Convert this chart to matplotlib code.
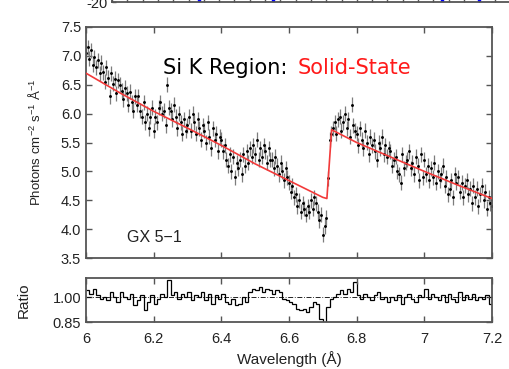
import numpy as np
import matplotlib
matplotlib.use('Agg')
import matplotlib.pyplot as plt

plt.rcParams['font.family'] = ['Liberation Sans', 'DejaVu Sans']
plt.rcParams['mathtext.default'] = 'regular'

# spectrum, 0.005 A bins starting at 6.0 A
wave0 = 6.0
bin_w = 0.005
flux = [
    7.05, 7.15, 6.95, 7.10, 6.85, 6.98, 6.80, 6.92, 6.70, 6.88,
    6.72, 6.55, 6.80, 6.62, 6.30, 6.70, 6.52, 6.60, 6.35, 6.58,
    6.50, 6.40, 6.25, 6.45, 6.35, 6.15, 6.38, 6.20, 6.05, 6.30,
    6.15, 6.30, 6.05, 5.95, 6.20, 5.85, 6.00, 5.75, 5.95, 6.10,
    5.70, 5.95, 5.85, 6.10, 6.20, 6.00, 6.05, 5.80, 6.50, 6.10,
    6.05, 5.90, 6.15, 5.95, 5.75, 6.00, 5.85, 5.65, 5.90, 5.70,
    5.80, 5.95, 5.70, 6.00, 5.85, 5.65, 5.90, 5.75, 5.55, 5.80,
    5.70, 5.50, 5.85, 5.60, 5.40, 5.75, 5.55, 5.65, 5.35, 5.60,
    5.55, 5.35, 5.45, 5.20, 5.10, 5.30, 5.00, 5.25, 4.90, 5.15,
    5.05, 5.20, 4.95, 5.30, 5.10, 5.35, 5.15, 5.40, 5.25, 5.45,
    5.30, 5.55, 5.20, 5.40, 5.25, 5.45, 5.35, 5.15, 5.40, 5.20,
    5.20, 5.05, 5.25, 5.10, 4.95, 5.15, 5.00, 4.85, 5.05, 4.90,
    4.80, 4.65, 4.75, 4.55, 4.60, 4.40, 4.50, 4.30, 4.45, 4.35,
    4.25, 4.40, 4.30, 4.50, 4.35, 4.55, 4.45, 4.30, 4.15, 4.25,
    3.90, 4.05, 4.20, 4.88, 5.55, 5.65, 5.75, 5.85, 5.65, 5.90,
    5.95, 5.70, 5.85, 6.00, 5.75, 5.90, 5.60, 6.15, 5.80, 5.70,
    5.65, 5.45, 5.75, 5.55, 5.40, 5.70, 5.50, 5.30, 5.60, 5.45,
    5.55, 5.35, 5.20, 5.50, 5.40, 5.60, 5.30, 5.45, 5.25, 5.40,
    5.35, 5.10, 5.20, 5.25, 5.00, 4.95, 4.80, 5.30, 5.05, 5.15,
    5.20, 5.35, 5.05, 5.15, 4.95, 5.25, 5.10, 4.85, 5.30, 4.90,
    5.20, 4.95, 5.10, 4.85, 5.05, 4.90, 5.15, 4.80, 5.00, 4.85,
    4.95, 5.10, 4.75, 4.90, 4.60, 4.70, 4.85, 4.55, 4.95, 4.80,
    4.90, 4.65, 4.80, 4.55, 4.75, 4.85, 4.60, 4.70, 4.45, 4.75,
    4.55, 4.70, 4.40, 4.60, 4.75, 4.50, 4.65, 4.35, 4.55, 4.45, 4.40,
]
flux_err = 0.13

# solid-state model
model_wave = [6.0, 6.1, 6.2, 6.3, 6.4, 6.5, 6.6, 6.7, 6.712, 6.726,
              6.8, 6.9, 7.0, 7.1, 7.2]
model_flux = [6.70, 6.36, 6.04, 5.75, 5.45, 5.13, 4.84, 4.55, 4.53, 5.72,
              5.50, 5.25, 5.00, 4.76, 4.53]

# data/model ratio, 0.01 A bins
ratio_bin = 0.01
ratio = [
    1.04, 1.02, 1.05, 1.01, 0.99, 1.00, 0.98, 1.03, 1.00, 0.97,
    1.03, 1.00, 0.99, 1.02, 0.95, 0.98, 1.01, 0.92, 0.97, 1.01,
    0.96, 0.99, 1.02, 1.00, 1.10, 1.01, 1.03, 0.99, 1.02, 1.00,
    1.03, 0.98, 1.01, 1.00, 1.03, 0.98, 1.02, 0.96, 1.01, 0.99,
    1.02, 0.97, 0.96, 0.99, 0.95, 0.96, 1.00, 0.97, 1.03, 1.05,
    1.04, 1.06, 1.03, 1.05, 1.04, 1.02, 1.04, 1.03, 0.99, 0.98,
    0.97, 0.96, 0.93, 0.92, 0.93, 0.91, 0.94, 0.97, 0.96, 0.87,
    0.84, 0.94, 0.99, 1.00, 1.02, 1.04, 1.02, 1.05, 1.03, 1.09,
    1.01, 0.99, 1.02, 1.00, 0.98, 1.01, 1.03, 0.99, 1.00, 0.97,
    1.00, 0.98, 1.01, 0.96, 1.00, 1.02, 0.99, 0.97, 1.01, 1.00,
    1.05, 0.99, 1.02, 1.00, 0.98, 1.01, 0.97, 1.02, 0.99, 0.97,
    1.03, 0.98, 1.01, 0.99, 1.02, 0.98, 1.00, 0.99, 1.01, 0.96,
]

x_ticks = [6.0, 6.2, 6.4, 6.6, 6.8, 7.0, 7.2]
x_labels = ['6', '6.2', '6.4', '6.6', '6.8', '7', '7.2']
y_ticks = [3.5, 4.0, 4.5, 5.0, 5.5, 6.0, 6.5, 7.0, 7.5]
r_ticks = [0.85, 1.00]

# fragment of the panel above (cut off by the slide)
strip_x = [0.19, 0.35, 0.72, 0.80]

wave = wave0 + bin_w * np.arange(len(flux))
edges = wave0 + ratio_bin * np.arange(len(ratio) + 1)

W, H = 510, 369
fig = plt.figure(figsize=(W / 100, H / 100), dpi=100)

spine_c = '#555555'
txt_c = '#222222'


def style(ax):
    for s in ax.spines.values():
        s.set_color(spine_c)
        s.set_linewidth(1.3)
    ax.tick_params(direction='in', length=4, width=1.0, color=spine_c,
                   labelsize=10.5, labelcolor=txt_c, top=True, right=True)


# strip from the upper panel
ax0 = fig.add_axes([112 / W, 1 - 2 / H, 0.9, 0.2])
ax0.set_xlim(0, 1)
ax0.set_ylim(-20, 20)
ax0.set_yticks([-20])
ax0.set_yticklabels(['-20'])
ax0.set_xticks(np.linspace(0, 1, 31))
ax0.set_xticklabels([])
style(ax0)
ax0.tick_params(length=3)
ax0.plot(strip_x, [-19] * len(strip_x), 's', color='blue', ms=2, clip_on=False)

# spectrum panel
ax = fig.add_axes([86 / W, 1 - 258 / H, 406 / W, 231 / H])
ax.errorbar(wave, flux, yerr=flux_err, fmt='o', ms=1.1, color='black',
            ecolor='#7d7d7d', elinewidth=0.9, capsize=0, zorder=2)
ax.plot(model_wave, model_flux, color='#f23a3a', lw=1.2, zorder=3)
ax.set_xlim(6.0, 7.2)
ax.set_ylim(3.5, 7.5)
ax.set_xticks(x_ticks)
ax.set_xticklabels([])
ax.set_yticks(y_ticks)
ax.set_yticklabels(['%.1f' % v for v in y_ticks])
style(ax)
ax.set_ylabel('Photons cm$^{-2}$ s$^{-1}$ Å$^{-1}$', fontsize=9.5,
              color=txt_c, labelpad=13)
ax.text(0.1, 0.09, 'GX 5\u22121', transform=ax.transAxes, fontsize=11.5,
        color=txt_c, va='center')

fig.text(163 / W, 1 - 68 / H, 'Si K Region:', fontsize=15,
         family=['DejaVu Sans'], color='black', va='center')
fig.text(298 / W, 1 - 68 / H, 'Solid-State', fontsize=15,
         family=['DejaVu Sans'], color='#ff1a1a', va='center')

# ratio panel
axr = fig.add_axes([86 / W, 1 - 322 / H, 406 / W, 44 / H])
axr.stairs(ratio, edges, color='black', lw=0.9, baseline=None)
axr.axhline(1.0, color='black', lw=0.6, ls=(0, (6, 2, 1, 2)))
axr.set_xlim(6.0, 7.2)
axr.set_ylim(0.85, 1.115)
axr.set_xticks(x_ticks)
axr.set_xticklabels(x_labels)
axr.set_yticks(r_ticks)
axr.set_yticklabels(['%.2f' % v for v in r_ticks])
style(axr)
axr.tick_params(axis='x', pad=7)
axr.set_xlabel('Wavelength (Å)', fontsize=11, color=txt_c, labelpad=3.5)
axr.set_ylabel('Ratio', fontsize=11, color=txt_c, labelpad=16)

fig.savefig('out.png', dpi=100)
